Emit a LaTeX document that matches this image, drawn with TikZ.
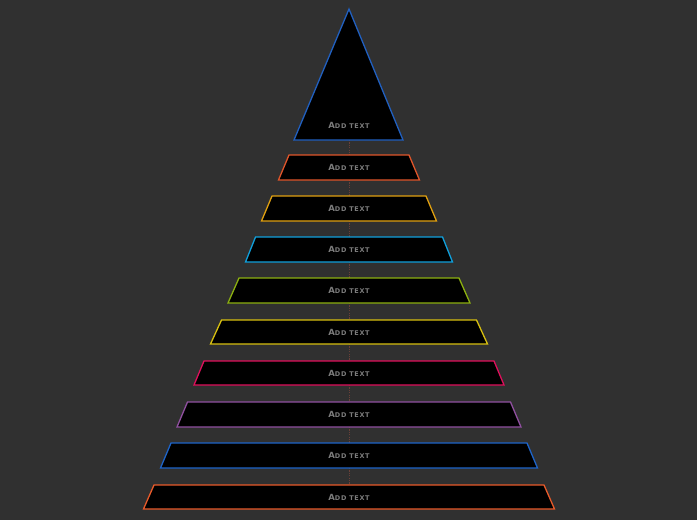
\documentclass[tikz,border=0pt]{standalone}
\usepackage{fontspec}
\setmainfont{DejaVu Sans}
\newfontfamily\lblfont[LetterSpace=10]{DejaVu Sans}
\definecolor{bg}{HTML}{303030}
\definecolor{cA}{HTML}{2160C0}
\definecolor{c1}{HTML}{E0552A}
\definecolor{c2}{HTML}{E0A010}
\definecolor{c3}{HTML}{10A0DC}
\definecolor{c4}{HTML}{8CB010}
\definecolor{c5}{HTML}{D8C010}
\definecolor{c6}{HTML}{E0105C}
\definecolor{c7}{HTML}{9050A0}
\definecolor{c8}{HTML}{1E64C8}
\definecolor{c9}{HTML}{E85A2A}
\definecolor{txt}{HTML}{7C7C7C}
\definecolor{conncol}{HTML}{6A4038}
\newcommand{\addtxt}{{\lblfont\bfseries{\fontsize{8.5}{9}\selectfont A}{\fontsize{6.5}{7}\selectfont DD TEXT}}}
\begin{document}
\begin{tikzpicture}[x=1pt,y=-1pt,
  shapebox/.style={fill=black,line width=1.3pt,line join=miter},
  lbl/.style={text=txt,inner sep=0pt},
  conn/.style={draw=conncol,line width=0.8pt,dash pattern=on 1.2pt off 1.2pt}]
\fill[bg] (0,0) rectangle (697,520);
\useasboundingbox (0,0) rectangle (697,520);
% connectors
\coordinate (s0b) at (349,140);
\foreach \i/\yt/\yb in {1/155/180,2/196/221,3/237/262,4/278/303,5/320/344,6/361/385,7/402/427,8/443/468,9/485/509}{
  \coordinate (s\i t) at (349,\yt);
  \coordinate (s\i b) at (349,\yb);
}
\foreach \a/\b in {0/1,1/2,2/3,3/4,4/5,5/6,6/7,7/8,8/9}{
  \draw[conn] (s\a b) -- (s\b t);
}
% triangle
\draw[shapebox,draw=cA] (349,9) -- (403,140) -- (294,140) -- cycle;
\node[lbl] (l0) at (349,125) {\addtxt};
% trapezoids
\foreach \i/\yt/\yb/\wt/\wb in {1/155/180/60/70.5,2/196/221/77/87.5,3/237/262/93.5/103.5,4/278/303/110/121,5/320/344/127.5/138.5,6/361/385/145/155,7/402/427/161.5/172,8/443/468/178/188.5,9/485/509/195/205.5}{
  \draw[shapebox,draw=c\i] (349-\wt,\yt) -- (349+\wt,\yt) -- (349+\wb,\yb) -- (349-\wb,\yb) -- cycle;
  \node[lbl] (l\i) at (349,{(\yt+\yb)/2}) {\addtxt};
}
\end{tikzpicture}
\end{document}
